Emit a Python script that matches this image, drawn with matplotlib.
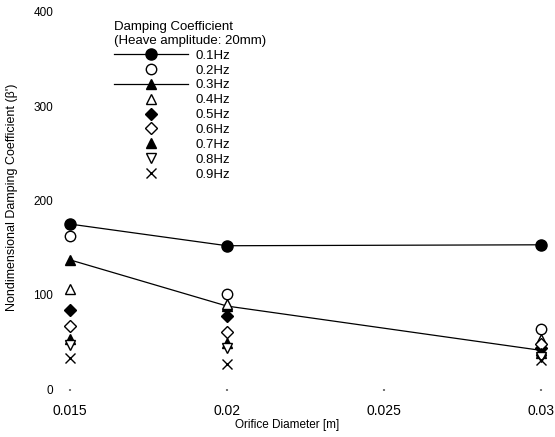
import matplotlib
matplotlib.use("Agg")
import matplotlib.pyplot as plt

plt.rcParams['font.family'] = ['Liberation Sans', 'DejaVu Sans']

diameters = [0.015, 0.02, 0.03]
freq_labels = ['0.1Hz', '0.2Hz', '0.3Hz', '0.4Hz', '0.5Hz', '0.6Hz', '0.7Hz', '0.8Hz', '0.9Hz']
v01 = [175, 152, 153]
v02 = [162, 101, 64]
v03 = [137, 88, 41]
v04 = [106, 90, 53]
v05 = [84, 77, 43]
v06 = [67, 61, 48]
v07 = [53, 49, 38]
v08 = [47, 44, 34]
v09 = [33, 26, 31]
series = [v01, v02, v03, v04, v05, v06, v07, v08, v09]

xticks = [0.015, 0.02, 0.025, 0.03]
xtick_labels = ['0.015', '0.02', '0.025', '0.03']
yticks = [0, 100, 200, 300, 400]

styles = [
    dict(marker='o', mfc='black', mec='black', ms=8, ls='-', lw=0.9),
    dict(marker='o', mfc='white', mec='black', ms=7.5, ls='none'),
    dict(marker='^', mfc='black', mec='black', ms=6.5, ls='-', lw=0.9),
    dict(marker='^', mfc='white', mec='black', ms=7, ls='none'),
    dict(marker='D', mfc='black', mec='black', ms=6, ls='none'),
    dict(marker='D', mfc='white', mec='black', ms=6, ls='none'),
    dict(marker='^', mfc='black', mec='black', ms=7, ls='none'),
    dict(marker='v', mfc='white', mec='black', ms=7, ls='none'),
    dict(marker='x', color='black', ms=7.5, ls='none', mew=1.0),
]

fig = plt.figure(figsize=(5.55, 4.37), dpi=100)
ax = fig.add_axes([70/555, 1-389/437, 471/555, 377/437])

handles = []
for vals, lab, st in zip(series, freq_labels, styles):
    st = dict(st)
    if 'color' not in st:
        st['color'] = 'black'
    h, = ax.plot(diameters, vals, label=lab, clip_on=False, **st)
    handles.append(h)

ax.set_xlim(0.015, 0.03)
ax.set_ylim(0, 400)
ax.set_xticks(xticks)
ax.set_xticklabels(xtick_labels)
ax.set_yticks(yticks)
for s in ax.spines.values():
    s.set_visible(False)
ax.tick_params(axis='y', length=0, pad=12, labelsize=8.5)
ax.tick_params(axis='x', length=1.5, width=1.5, color='#777777', pad=9.5, labelsize=10)

ax.set_xlabel('Orifice Diameter [m]', fontsize=8.5)
ax.xaxis.set_label_coords((287-70)/471, -(425-389)/377)
ax.xaxis.label.set_va('center')
ax.set_ylabel("Nondimensional Damping Coefficient (β')", fontsize=9)
ax.yaxis.set_label_coords(-(70-12)/471, (389-197)/377)
ax.yaxis.label.set_va('center')

leg = ax.legend(handles=handles, labels=freq_labels,
                title='Damping Coefficient\n(Heave amplitude: 20mm)',
                loc='upper left', bbox_to_anchor=(114/555, 1-21/437),
                bbox_transform=fig.transFigure, frameon=False,
                borderpad=0, borderaxespad=0, numpoints=1,
                handlelength=5.6, handletextpad=0.6, labelspacing=0.2,
                fontsize=9.5, title_fontsize=9.5, alignment='left')

fig.savefig('out.png', dpi=100)
